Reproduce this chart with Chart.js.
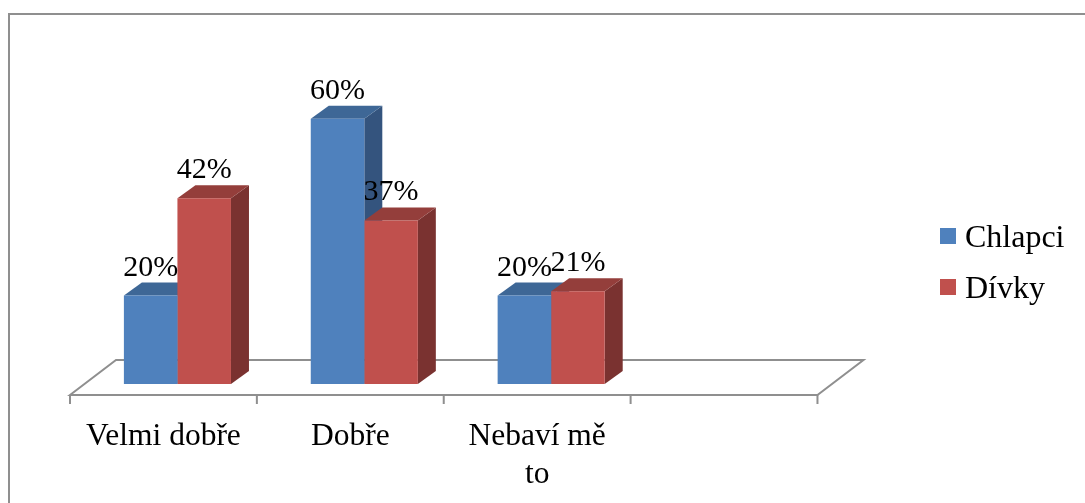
<!DOCTYPE html>
<html>
<head>
<meta charset="utf-8">
<style>
  html, body { margin: 0; background: #fff; }
  canvas { display: block; filter: blur(0.4px); }
</style>
<script src="https://cdn.jsdelivr.net/npm/chart.js@4"></script>
</head>
<body>
<canvas id="myChart" width="1085" height="503"></canvas>
<script>
const categories = ['Velmi dobře', 'Dobře', ['Nebaví mě', 'to'], '']
const chlapci = [20, 60, 20, null]
const divky = [42, 37, 21, null]

const FONT = '"Liberation Serif", "Times New Roman", serif'
const GREY = '#8f8f8f'
const depthX = 18, depthY = 13

// legend swatch: canvas point style, so the text sits close to the box
// (extra empty rows at the bottom lift the box a little against the text)
function swatch(color) {
  const c = document.createElement('canvas')
  c.width = 16
  c.height = 22
  const ctx = c.getContext('2d')
  ctx.fillStyle = color
  ctx.fillRect(0, 0, 16, 16)
  return c
}

function fillPoly(ctx, color, pts) {
  ctx.fillStyle = color
  ctx.beginPath()
  pts.forEach(([x, y], i) => i ? ctx.lineTo(x, y) : ctx.moveTo(x, y))
  ctx.closePath()
  ctx.fill()
}

const frame3d = {
  id: 'frame3d',
  beforeDatasetsDraw(chart) {
    const { ctx, chartArea: { left, right, bottom } } = chart
    ctx.save()

    // outer frame, only top and left are in view
    ctx.strokeStyle = GREY
    ctx.lineWidth = 2
    ctx.beginPath()
    ctx.moveTo(9, 503)
    ctx.lineTo(9, 14)
    ctx.lineTo(1085, 14)
    ctx.stroke()

    // floor
    const shift = 14
    const x0 = left - shift, x1 = right - shift
    const front = bottom + 11, back = bottom - 24
    ctx.lineWidth = 2
    ctx.beginPath()
    ctx.moveTo(x0, front)
    ctx.lineTo(x0 + 46, back)
    ctx.lineTo(x1 + 46, back)
    ctx.lineTo(x1, front)
    ctx.closePath()
    ctx.stroke()

    // tick marks between categories
    const step = (right - left) / categories.length
    ctx.beginPath()
    for (let i = 0; i <= categories.length; i++) {
      ctx.moveTo(x0 + i * step, front)
      ctx.lineTo(x0 + i * step, front + 9)
    }
    ctx.stroke()

    // side and top faces of the bars, fronts get drawn over them by the library
    chart.data.datasets.forEach((ds, d) => {
      chart.getDatasetMeta(d).data.forEach((bar, i) => {
        if (ds.data[i] == null) return
        const l = bar.x - bar.width / 2, r = bar.x + bar.width / 2
        const t = bar.y, b = bar.base
        fillPoly(ctx, ds.sideColor, [[r, t], [r + depthX, t - depthY], [r + depthX, b - depthY], [r, b]])
        fillPoly(ctx, ds.topColor, [[l, t], [l + depthX, t - depthY], [r + depthX, t - depthY], [r, t]])
      })
    })
    ctx.restore()
  },
  afterDatasetsDraw(chart) {
    const { ctx } = chart
    ctx.save()
    ctx.fillStyle = '#000'
    ctx.font = '30px ' + FONT
    ctx.textAlign = 'center'
    chart.data.datasets.forEach((ds, d) => {
      chart.getDatasetMeta(d).data.forEach((bar, i) => {
        if (ds.data[i] == null) return
        ctx.fillText(ds.data[i] + '%', bar.x, bar.y - 20)
      })
    })
    ctx.restore()
  }
}

new Chart(document.getElementById('myChart'), {
  type: 'bar',
  data: {
    labels: categories,
    datasets: [
      { label: 'Chlapci', data: chlapci, backgroundColor: '#4f81bd', topColor: '#3e6796', sideColor: '#34547e', pointStyle: swatch('#4f81bd') },
      { label: 'Dívky', data: divky, backgroundColor: '#c0504d', topColor: '#943e3b', sideColor: '#7a3230', pointStyle: swatch('#c0504d') }
    ]
  },
  options: {
    responsive: false,
    animation: false,
    layout: { padding: { top: 26, left: 84, right: 10.5 } },
    datasets: { bar: { categoryPercentage: 0.573, barPercentage: 1 } },
    scales: {
      x: {
        grid: { display: false },
        border: { display: false },
        ticks: { color: '#000', font: { family: FONT, size: 31.5 }, maxRotation: 0, autoSkip: false, labelOffset: -14, padding: 26 },
        afterFit(s) { s.height = 119 }
      },
      y: {
        position: 'right',
        min: 0,
        max: 81,
        grid: { display: false },
        border: { display: false },
        ticks: { display: false },
        afterFit(s) { s.width = 97.5 }
      }
    },
    plugins: {
      tooltip: { enabled: false },
      legend: {
        position: 'right',
        labels: {
          color: '#000',
          font: { family: FONT, size: 32 },
          usePointStyle: true,
          pointStyleWidth: 1,
          boxHeight: 16,
          padding: 19
        }
      }
    }
  },
  plugins: [frame3d]
})
</script>
</body>
</html>
